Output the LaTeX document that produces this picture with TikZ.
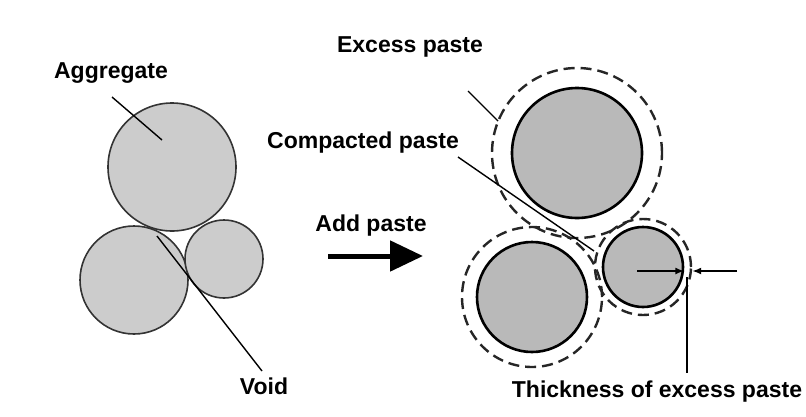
\documentclass[tikz,border=0pt]{standalone}
\usepackage{fontspec}
\setmainfont{Liberation Sans}
\usetikzlibrary{arrows.meta}
\begin{document}
\begin{tikzpicture}[x=1pt,y=-1pt,
  lbl/.style={font=\bfseries\fontsize{23}{26}\selectfont, inner sep=0pt},
  grain/.style={circle, draw=black!80, line width=1.6pt, fill=gray!40, inner sep=0pt},
  core/.style={circle, draw=black, line width=2.6pt, fill=gray!55, inner sep=0pt},
  shell/.style={circle, draw=black!85, line width=2.4pt, dash pattern=on 11pt off 6pt, inner sep=0pt},
  lead/.style={line width=1.4pt}]
\useasboundingbox (0,0) rectangle (806,416);
%LABELS
\node[lbl] (aggL) at (111,73) {Aggregate};
\node[lbl] (voidL) at (264,386) {Void};
\node[lbl] (addL) at (371,226) {Add paste};
\node[lbl] (excL) at (410,47) {Excess paste};
\node[lbl] (compL) at (363,143) {Compacted paste};
\node[lbl] (thkL) at (657,392) {Thickness of excess paste};
%LEFT GRAINS
\node[grain, minimum size=128pt] (gTop) at (172,167) {};
\node[grain, minimum size=108pt] (gLeft) at (134,280) {};
\node[grain, minimum size=78pt] (gRight) at (224,259) {};
%RIGHT GRAINS, excess paste first
\node[shell, minimum size=170pt] (sTop) at (577,153) {};
\node[shell, minimum size=140pt] (sLeft) at (532,297) {};
\node[shell, minimum size=96pt] (sRight) at (643,267) {};
\node[core, minimum size=130pt] (cTop) at (577,153) {};
\node[core, minimum size=110pt] (cLeft) at (532,297) {};
\node[core, minimum size=80pt] (cRight) at (643,267) {};
%Aggregate leader
\coordinate (aggA) at (112,97);
\coordinate (aggB) at (162,140);
\draw[lead] (aggA) -- (aggB);
%Void leader
\coordinate (voidA) at (157,236);
\coordinate (voidB) at (262,371);
\draw[lead] (voidA) -- (voidB);
%Add paste arrow
\coordinate (addA) at (328,256);
\coordinate (addB) at (423,256);
\draw[line width=5pt, -{Triangle[length=33pt,width=30pt]}] (addA) -- (addB);
%Excess paste leader
\coordinate (excA) at (468,91);
\coordinate (excB) at (498,121);
\draw[lead] (excA) -- (excB);
%Compacted paste leader
\coordinate (compA) at (458,157);
\coordinate (compB) at (594,251);
\draw[lead] (compA) -- (compB);
%thickness arrows
\coordinate (thkA) at (637,271);
\coordinate (thkB) at (737,271);
\draw[line width=1.6pt, -{Latex[length=9pt,width=7pt]}] (thkA) -- (thkA -| cRight.east);
\draw[line width=1.6pt, -{Latex[length=9pt,width=7pt]}] (thkB) -- (thkB -| sRight.east);
%thickness leader
\coordinate (thkC) at (687,277);
\coordinate (thkD) at (687,373);
\draw[lead] (thkC) -- (thkD);
\end{tikzpicture}
\end{document}
